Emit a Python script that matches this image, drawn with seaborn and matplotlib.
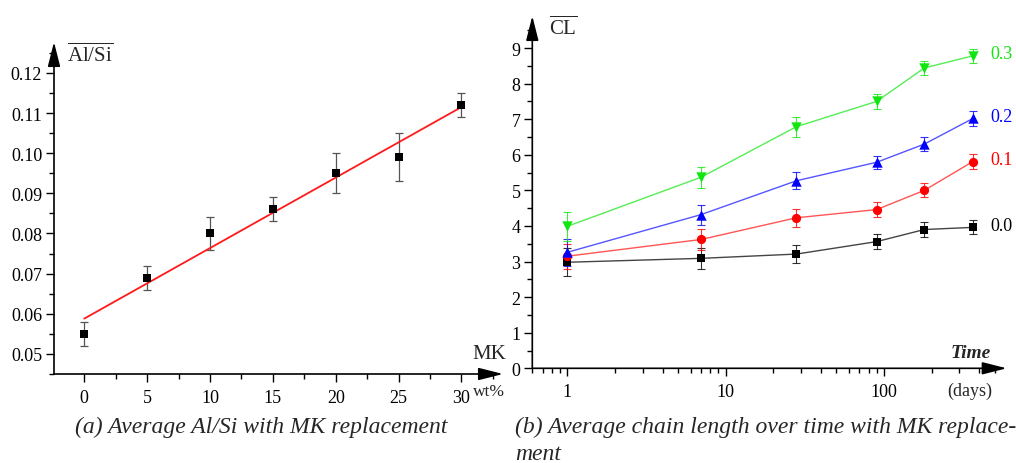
import numpy as np
import pandas as pd
import matplotlib
matplotlib.use("Agg")
import matplotlib.pyplot as plt
import matplotlib.ticker as mticker
import seaborn as sns

# ---------------- data ----------------
mk_wt = [0, 5, 10, 15, 20, 25, 30]
alsi = [0.055, 0.069, 0.080, 0.086, 0.095, 0.099, 0.112]
alsi_err = [0.003, 0.003, 0.004, 0.003, 0.005, 0.006, 0.003]

days = [1, 7, 28, 90, 180, 365]
series_labels = ["0.0", "0.1", "0.2", "0.3"]
cl_00 = [2.98, 3.09, 3.21, 3.56, 3.90, 3.96]
cl_01 = [3.15, 3.62, 4.23, 4.46, 5.00, 5.81]
cl_02 = [3.26, 4.32, 5.27, 5.79, 6.30, 7.02]
cl_03 = [3.99, 5.37, 6.79, 7.50, 8.44, 8.78]
err_00 = [0.40, 0.30, 0.25, 0.20, 0.20, 0.20]
err_01 = [0.35, 0.30, 0.25, 0.20, 0.20, 0.20]
err_02 = [0.38, 0.28, 0.24, 0.18, 0.20, 0.20]
err_03 = [0.40, 0.30, 0.28, 0.20, 0.20, 0.20]

# ---------------- style ----------------
sns.set_theme(style="ticks")
plt.rcParams["font.family"] = ["Liberation Serif", "DejaVu Serif"]
plt.rcParams["mathtext.fontset"] = "custom"
plt.rcParams["mathtext.rm"] = "Liberation Serif"
plt.rcParams["mathtext.it"] = "Liberation Serif:italic"

W, H = 1016, 464
fig = plt.figure(figsize=(W / 100, H / 100), dpi=100)
fig.patch.set_facecolor("white")


def px_axes(x0, y_top, x1, y_bot):
    return fig.add_axes([x0 / W, 1 - y_bot / H, (x1 - x0) / W, (y_bot - y_top) / H])


def fx(x):
    return x / W


def fy(y):
    return 1 - y / H


axL = px_axes(54, 43, 503, 375)
axR = px_axes(532.3, 17, 1006.7, 369.3)

for ax in (axL, axR):
    ax.set_facecolor("white")
    for s in ax.spines.values():
        s.set_visible(False)
    # arrowed axes
    arrow = dict(arrowstyle="-|>,head_length=1.5,head_width=0.38", color="black",
                 lw=1.2, shrinkA=0, shrinkB=0, mutation_scale=10)
    ax.annotate("", xy=(1, 0), xytext=(0, 0), xycoords="axes fraction",
                arrowprops=arrow, annotation_clip=False)
    ax.annotate("", xy=(0, 1), xytext=(0, 0), xycoords="axes fraction",
                arrowprops=arrow, annotation_clip=False)
    ax.tick_params(which="major", direction="out", length=5.5, width=1.0,
                   labelsize=13, colors="black", pad=3)
    ax.tick_params(which="minor", direction="out", length=3.5, width=1.0, colors="black")
    ax.tick_params(axis="x", which="major", pad=5)
    ax.grid(False)

# ---------------- left panel ----------------
dfL = pd.DataFrame({"mk": mk_wt, "alsi": alsi, "err": alsi_err})
axL.errorbar(dfL["mk"], dfL["alsi"], yerr=dfL["err"], fmt="none", ecolor="#555555",
             elinewidth=0.9, capsize=3.2, capthick=0.9, zorder=2)
sns.regplot(data=dfL, x="mk", y="alsi", ax=axL, scatter=False, ci=None, truncate=True,
            line_kws=dict(color="#ff1a1a", lw=1.3, zorder=3))
sns.scatterplot(data=dfL, x="mk", y="alsi", ax=axL, marker="s", color="black",
                s=36, edgecolor="black", linewidth=0, zorder=4)
axL.set_xlim(-2.4, 33.3)
axL.set_ylim(0.045, 0.1277)
axL.set_xticks([0, 5, 10, 15, 20, 25, 30])
axL.xaxis.set_minor_locator(mticker.MultipleLocator(2.5))
axL.set_yticks([0.05, 0.06, 0.07, 0.08, 0.09, 0.10, 0.11, 0.12])
axL.yaxis.set_major_formatter(mticker.FormatStrFormatter("%.2f"))
axL.yaxis.set_minor_locator(mticker.MultipleLocator(0.005))
axL.set_xlabel("")
axL.set_ylabel("")

# ---------------- right panel ----------------
colors = {"0.0": "#000000", "0.1": "#ff0000", "0.2": "#0000ff", "0.3": "#11e611"}
line_colors = {"0.0": "#444444", "0.1": "#ff5555", "0.2": "#5555ff", "0.3": "#55ee55"}
markers = {"0.0": "s", "0.1": "o", "0.2": "^", "0.3": "v"}
sizes = {"0.0": 34, "0.1": 44, "0.2": 56, "0.3": 56}
vals = {"0.0": cl_00, "0.1": cl_01, "0.2": cl_02, "0.3": cl_03}
errs = {"0.0": err_00, "0.1": err_01, "0.2": err_02, "0.3": err_03}

dfR = pd.concat([pd.DataFrame({"days": days, "cl": vals[k], "err": errs[k], "series": k})
                 for k in series_labels], ignore_index=True)

axR.set_xscale("log")
sns.lineplot(data=dfR, x="days", y="cl", hue="series", palette=line_colors, ax=axR,
             legend=False, lw=1.0, zorder=2, estimator=None, sort=True)
for k in series_labels:
    d = dfR[dfR["series"] == k]
    axR.errorbar(d["days"], d["cl"], yerr=d["err"], fmt="none", ecolor=colors[k],
                 elinewidth=0.8, capsize=3.2, capthick=0.8, alpha=0.8, zorder=3)
    sns.scatterplot(data=d, x="days", y="cl", ax=axR, marker=markers[k], color=colors[k],
                    s=sizes[k], linewidth=0, zorder=4)
    axR.annotate(k, xy=(d["days"].iloc[-1], d["cl"].iloc[-1]), xytext=(12.5, 1.5),
                 textcoords="offset points", va="center", ha="left", color=colors[k],
                 fontsize=13, annotation_clip=False)

axR.set_xlim(0.6, 597)
axR.set_ylim(0, 9.9)
axR.set_xticks([1, 10, 100])
axR.xaxis.set_major_formatter(mticker.FuncFormatter(lambda v, p: f"{v:g}"))
axR.xaxis.set_minor_locator(mticker.LogLocator(base=10, subs=np.arange(2, 10)))
axR.xaxis.set_minor_formatter(mticker.NullFormatter())
axR.set_yticks(range(0, 10))
axR.yaxis.set_minor_locator(mticker.MultipleLocator(0.5))
axR.set_xlabel("")
axR.set_ylabel("")

# ---------------- axis annotations ----------------
fig.text(fx(67), fy(55), r"$\overline{\mathrm{Al/Si}}$", ha="left", va="center", fontsize=15)
fig.text(fx(549), fy(28), r"$\overline{\mathrm{CL}}$", ha="left", va="center", fontsize=15)
fig.text(fx(489), fy(355), "MK", ha="center", va="center", fontsize=15)
fig.text(fx(473), fy(392), "wt%", ha="left", va="center", fontsize=12.5)
fig.text(fx(971), fy(354), "Time", ha="center", va="center", fontsize=14,
         fontweight="bold", fontstyle="italic")
fig.text(fx(970), fy(391), "(days)", ha="center", va="center", fontsize=13)

# ---------------- captions ----------------
capA = fig.text(fx(75), fy(433), "(a) Average Al/Si with MK replacement", ha="left",
                va="baseline", fontsize=16, fontstyle="italic")
capB1 = fig.text(fx(515), fy(433), "(b) Average chain length over time with MK replace-",
                 ha="left", va="baseline", fontsize=16, fontstyle="italic")
capB2 = fig.text(fx(515), fy(460), "ment", ha="left", va="baseline", fontsize=16,
                 fontstyle="italic")
fig.canvas.draw()
r = fig.canvas.get_renderer()
wa = capA.get_window_extent(r).width
wb = capB1.get_window_extent(r).width
fs = 16 * 0.5 * (373 / wa + 500 / wb)
for t in (capA, capB1, capB2):
    t.set_fontsize(fs)

fig.savefig("out.png", dpi=100, facecolor="white")
